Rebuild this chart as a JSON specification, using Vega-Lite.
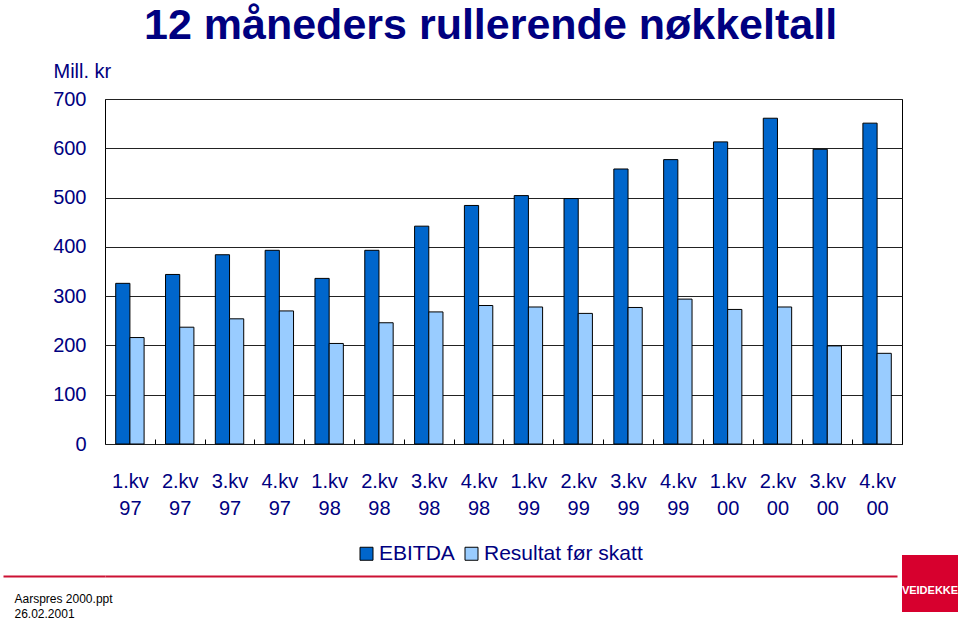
{
  "$schema": "https://vega.github.io/schema/vega-lite/v6.json",
  "background": "white",
  "padding": {"left": 3, "top": 4, "right": 0, "bottom": 0},
  "autosize": {"type": "pad"},
  "config": {"font": "Liberation Sans", "view": {"stroke": null}},
  "title": {"text": "12 måneders rullerende nøkkeltall", "fontSize": 43, "fontWeight": "bold", "color": "#000080", "anchor": "middle", "offset": 13, "dx": 10, "font": "Liberation Sans"},
  "bounds": "flush",
  "columns": 3,
  "spacing": {"row": 111, "column": 0},
  "concat": [
    {
      "width": 102, "height": 345,
      "data": {"values": [{"t": ""}]},
      "mark": {"type": "text", "text": ""},
      "encoding": {}
    },
    {
      "width": 797, "height": 345,
      "view": {"stroke": "black", "strokeWidth": 1},
      "data": {"values": [
        {"kvartal": "1.kv 97", "serie": "EBITDA", "verdi": 326},
        {"kvartal": "1.kv 97", "serie": "Resultat før skatt", "verdi": 216},
        {"kvartal": "2.kv 97", "serie": "EBITDA", "verdi": 344},
        {"kvartal": "2.kv 97", "serie": "Resultat før skatt", "verdi": 237},
        {"kvartal": "3.kv 97", "serie": "EBITDA", "verdi": 384},
        {"kvartal": "3.kv 97", "serie": "Resultat før skatt", "verdi": 254},
        {"kvartal": "4.kv 97", "serie": "EBITDA", "verdi": 393},
        {"kvartal": "4.kv 97", "serie": "Resultat før skatt", "verdi": 270},
        {"kvartal": "1.kv 98", "serie": "EBITDA", "verdi": 336},
        {"kvartal": "1.kv 98", "serie": "Resultat før skatt", "verdi": 204},
        {"kvartal": "2.kv 98", "serie": "EBITDA", "verdi": 393},
        {"kvartal": "2.kv 98", "serie": "Resultat før skatt", "verdi": 246},
        {"kvartal": "3.kv 98", "serie": "EBITDA", "verdi": 442},
        {"kvartal": "3.kv 98", "serie": "Resultat før skatt", "verdi": 268},
        {"kvartal": "4.kv 98", "serie": "EBITDA", "verdi": 484},
        {"kvartal": "4.kv 98", "serie": "Resultat før skatt", "verdi": 281},
        {"kvartal": "1.kv 99", "serie": "EBITDA", "verdi": 504},
        {"kvartal": "1.kv 99", "serie": "Resultat før skatt", "verdi": 278},
        {"kvartal": "2.kv 99", "serie": "EBITDA", "verdi": 498},
        {"kvartal": "2.kv 99", "serie": "Resultat før skatt", "verdi": 265},
        {"kvartal": "3.kv 99", "serie": "EBITDA", "verdi": 558},
        {"kvartal": "3.kv 99", "serie": "Resultat før skatt", "verdi": 277},
        {"kvartal": "4.kv 99", "serie": "EBITDA", "verdi": 577},
        {"kvartal": "4.kv 99", "serie": "Resultat før skatt", "verdi": 294},
        {"kvartal": "1.kv 00", "serie": "EBITDA", "verdi": 613},
        {"kvartal": "1.kv 00", "serie": "Resultat før skatt", "verdi": 273},
        {"kvartal": "2.kv 00", "serie": "EBITDA", "verdi": 661},
        {"kvartal": "2.kv 00", "serie": "Resultat før skatt", "verdi": 278},
        {"kvartal": "3.kv 00", "serie": "EBITDA", "verdi": 598},
        {"kvartal": "3.kv 00", "serie": "Resultat før skatt", "verdi": 199},
        {"kvartal": "4.kv 00", "serie": "EBITDA", "verdi": 651},
        {"kvartal": "4.kv 00", "serie": "Resultat før skatt", "verdi": 184}
      ]},
      "mark": {"type": "bar", "stroke": "black", "strokeWidth": 1},
      "encoding": {
        "x": {
          "field": "kvartal", "type": "nominal", "sort": null,
          "scale": {"paddingInner": 0.43, "paddingOuter": 0.215},
          "axis": {
            "title": null, "labelExpr": "split(datum.label, ' ')", "labelAngle": 0,
            "labelFontSize": 20, "labelColor": "#000080", "labelLineHeight": 27,
            "labelPadding": 32, "labelBaseline": "top", "domain": false,
            "ticks": true, "tickSize": -5, "tickColor": "black", "tickWidth": 1,
            "tickOffset": 24.9, "labelOffset": -24.9, "grid": false
          }
        },
        "xOffset": {"field": "serie", "type": "nominal", "sort": ["EBITDA", "Resultat før skatt"]},
        "y": {
          "field": "verdi", "type": "quantitative",
          "scale": {"domain": [0, 700], "nice": false},
          "axis": {
            "title": "Mill. kr", "titleAngle": 0, "titleX": -52, "titleY": -22,
            "titleAlign": "left", "titleBaseline": "alphabetic", "titleFontSize": 20,
            "titleFontWeight": "normal", "titleColor": "#000080",
            "values": [0, 100, 200, 300, 400, 500, 600, 700],
            "labelFontSize": 20, "labelColor": "#000080", "labelPadding": 19,
            "labelFlush": false, "labelBaseline": "middle",
            "ticks": false, "tickSize": 0, "domain": false,
            "grid": true, "gridColor": "#222222", "gridWidth": 1, "gridOpacity": 1
          }
        },
        "color": {
          "field": "serie", "type": "nominal", "sort": ["EBITDA", "Resultat før skatt"],
          "scale": {"range": ["#0066CC", "#99CCFF"]},
          "legend": {
            "title": null, "orient": "none", "direction": "horizontal",
            "legendX": 353, "legendY": 444,
            "symbolType": "square", "symbolSize": 169, "symbolStrokeColor": "black",
            "symbolStrokeWidth": 1, "symbolOpacity": 1,
            "labelFontSize": 21, "labelColor": "#000080", "labelOffset": 2,
            "columnPadding": 6, "labelLimit": 400
          }
        }
      }
    },
    {
      "width": 56, "height": 345,
      "data": {"values": [{"t": ""}]},
      "mark": {"type": "text", "text": ""},
      "encoding": {}
    },
    {
      "width": 102, "height": 57,
      "data": {"values": [{"v": 0}]},
      "mark": {"type": "text", "text": ""},
      "encoding": {
        "x": {
          "field": "v", "type": "quantitative",
          "axis": {
            "orient": "top", "offset": -21, "domain": true, "domainColor": "#cc1133", "domainWidth": 2,
            "ticks": false, "labels": false, "grid": false,
            "title": ["Aarspres 2000.ppt", "26.02.2001"],
            "titleX": 11, "titleY": 17, "titleAlign": "left", "titleAnchor": null,
            "titleBaseline": "top", "titleFontSize": 12, "titleFontWeight": "normal",
            "titleColor": "black", "titleLineHeight": 15, "titleAngle": 0
          }
        }
      }
    },
    {
      "width": 792, "height": 57,
      "data": {"values": [{"v": 0}]},
      "mark": {"type": "text", "text": ""},
      "encoding": {
        "x": {
          "field": "v", "type": "quantitative",
          "axis": {
            "orient": "top", "offset": -21, "domain": true, "domainColor": "#cc1133", "domainWidth": 2,
            "ticks": false, "labels": false, "grid": false, "title": null
          }
        }
      }
    },
    {
      "width": 56, "height": 57,
      "view": {"fill": "#d7002e", "stroke": null},
      "data": {"values": [{"navn": "VEIDEKKE"}]},
      "mark": {"type": "text", "color": "white", "font": "Liberation Sans", "fontWeight": "bold", "fontSize": 11, "dy": 7},
      "encoding": {"text": {"field": "navn", "type": "nominal"}}
    }
  ]
}
